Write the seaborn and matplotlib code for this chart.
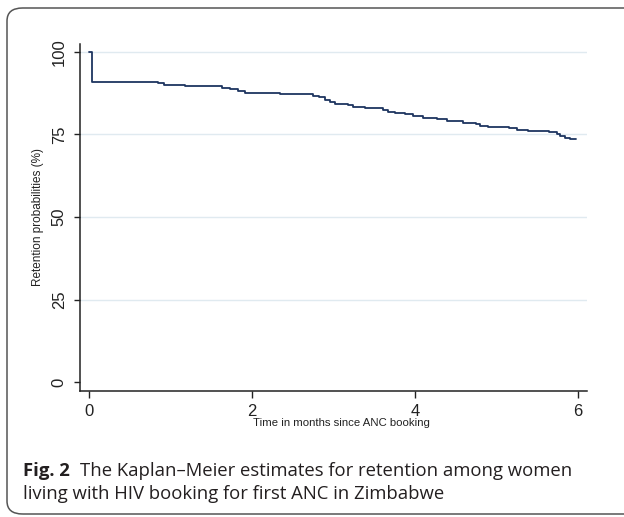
import matplotlib
matplotlib.use("Agg")
import matplotlib.pyplot as plt
from matplotlib.patches import FancyBboxPatch
import pandas as pd
import seaborn as sns

# Kaplan-Meier retention estimates (months, %)
months = [0.0, 0.037, 0.854, 0.92, 1.18, 1.64, 1.73, 1.83, 1.92, 2.34,
          2.75, 2.82, 2.90, 2.96, 3.02, 3.18, 3.24, 3.39, 3.61, 3.67,
          3.76, 3.88, 3.98, 4.10, 4.27, 4.39, 4.59, 4.75, 4.80, 4.90,
          5.15, 5.25, 5.39, 5.64, 5.74, 5.78, 5.84, 5.90, 5.98]
retention = [100.0, 91.0, 90.7, 89.9, 89.6, 89.2, 88.8, 88.3, 87.7, 87.3,
             86.7, 86.2, 85.5, 84.8, 84.3, 83.9, 83.4, 82.9, 82.4, 81.9,
             81.5, 81.1, 80.7, 80.1, 79.7, 79.1, 78.6, 78.2, 77.7, 77.4,
             76.9, 76.4, 76.1, 75.7, 75.1, 74.5, 73.9, 73.6, 73.6]
x_ticks = [0, 2, 4, 6]
y_ticks = [0, 25, 50, 75, 100]

caption_bold = "Fig. 2"
caption_line1 = "The Kaplan\u2013Meier estimates for retention among women"
caption_line2 = "living with HIV booking for first ANC in Zimbabwe"

sns.set_style("ticks")
plt.rcParams["font.family"] = ["Liberation Sans Narrow", "Liberation Sans", "DejaVu Sans"]

W, H = 624, 517
fig = plt.figure(figsize=(W / 100, H / 100), dpi=100)
ax = fig.add_axes([80 / W, 1 - 391 / H, (587.3 - 80) / W, (391 - 44) / H])

df = pd.DataFrame({"time": months, "retention": retention})
sns.lineplot(data=df, x="time", y="retention", drawstyle="steps-post",
             estimator=None, color="#1e3560", linewidth=1.3, ax=ax)

ax.set_xlim(-0.107, 6.114)
ax.set_ylim(-2.7, 102.4)
ax.set_xticks(x_ticks)
ax.set_yticks(y_ticks)
ax.set_yticklabels([str(v) for v in y_ticks], rotation=90, va="center")
for v in y_ticks[1:]:
    ax.axhline(v, color="#e0eaf0", linewidth=1.0, zorder=0)

ax.tick_params(axis="both", direction="out", length=4.5, width=1,
               color="#222222", labelsize=12, labelcolor="#222222")
ax.tick_params(axis="x", length=5, pad=4)
ax.tick_params(axis="y", pad=5)
for side in ["top", "right"]:
    ax.spines[side].set_visible(False)
for side in ["left", "bottom"]:
    ax.spines[side].set_color("#222222")
    ax.spines[side].set_linewidth(1.1)

ax.set_xlabel("Time in months since ANC booking", fontsize=8.2, color="#222222")
ax.set_ylabel("Retention probabilities (%)", fontsize=8.5, color="#222222")
ax.xaxis.set_label_coords((341 - 80) / 507.3, (391 - 418) / 347)
ax.yaxis.set_label_coords((44 - 80) / 507.3, 0.5)

# rounded frame around the figure panel
frame = FancyBboxPatch((7 / W, 3 / H), (660 - 7) / W, (509 - 3) / H,
                       boxstyle="round,pad=0,rounding_size=0.025",
                       transform=fig.transFigure, facecolor="none",
                       edgecolor="#555555", linewidth=1.1, clip_on=False)
fig.patches.append(frame)

cap = ["Open Sans", "DejaVu Sans"]
t_bold = fig.text(23 / W, 1 - 476 / H, caption_bold, fontsize=13.3,
                  fontweight="bold", family=cap, color="#231f20")
fig.canvas.draw()
bb = t_bold.get_window_extent()
fig.text((bb.x1 + 10) / W, 1 - 476 / H, caption_line1, fontsize=13.3,
         family=cap, color="#231f20")
fig.text(23 / W, 1 - 499 / H, caption_line2, fontsize=13.3,
         family=cap, color="#231f20")

fig.savefig("out.png", dpi=100)
